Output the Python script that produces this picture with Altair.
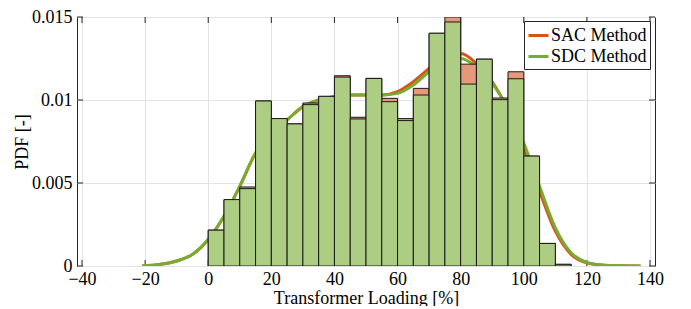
import altair as alt
import pandas as pd

# ---- data ----
bin_starts = list(range(0, 115, 5))
bin_width = 5
sac_pdf = [0.00216, 0.0040, 0.00476, 0.00994, 0.00888, 0.00856, 0.00982, 0.01022,
           0.01146, 0.00896, 0.0113, 0.0101, 0.00888, 0.0107, 0.01402, 0.0150,
           0.01216, 0.01246, 0.01012, 0.0117, 0.00662, 0.00136, 0.0001]
sdc_pdf = [0.00216, 0.0040, 0.00466, 0.00994, 0.00888, 0.00856, 0.00972, 0.01022,
           0.01138, 0.00886, 0.0113, 0.0099, 0.00876, 0.0103, 0.01402, 0.0147,
           0.01096, 0.01246, 0.01002, 0.01128, 0.00662, 0.00136, 0.0001]

curve_x = [-21, -15, -10, -5, 0, 5, 10, 15, 20, 25, 30, 35, 40, 45, 50, 55, 60,
           65, 70, 75, 80, 85, 90, 95, 100, 105, 110, 115, 120, 125, 130, 137]
sac_curve = [0, 0.0001, 0.0003, 0.0007, 0.0016, 0.0030, 0.0048, 0.0068, 0.0080,
             0.0088, 0.0096, 0.0100, 0.0102, 0.0103, 0.0103, 0.0103, 0.0105,
             0.0111, 0.0119, 0.0126, 0.0128, 0.0122, 0.0111, 0.0094, 0.0071,
             0.0045, 0.0021, 0.0007, 0.00019, 0.00005, 0.00001, 0]
sdc_curve = [0, 0.0001, 0.0003, 0.0007, 0.0016, 0.0030, 0.0048, 0.0068, 0.0080,
             0.0088, 0.0096, 0.0100, 0.0102, 0.0103, 0.0103, 0.0103, 0.0104,
             0.0109, 0.0117, 0.0123, 0.0125, 0.0120, 0.0110, 0.0095, 0.0074,
             0.0048, 0.0023, 0.0008, 0.00022, 0.00006, 0.00001, 0]

series_names = ["SAC Method", "SDC Method"]
line_colors = ["#D95319", "#77AC30"]
bar_colors = ["#E8987A", "#ADCD83"]

x_ticks = [-40, -20, 0, 20, 40, 60, 80, 100, 120, 140]
y_ticks = [0, 0.005, 0.01, 0.015]

FONT = "Liberation Serif"
W, H = 578, 249

# ---- tables ----
bars = pd.DataFrame({
    "x0": bin_starts,
    "x1": [b + bin_width for b in bin_starts],
    "sac": sac_pdf,
    "sdc": sdc_pdf,
})
curves = pd.concat([
    pd.DataFrame({"x": curve_x, "pdf": sac_curve, "method": series_names[0]}),
    pd.DataFrame({"x": curve_x, "pdf": sdc_curve, "method": series_names[1]}),
])
xt = pd.DataFrame({"v": x_ticks})
yt = pd.DataFrame({"v": y_ticks})

xscale = alt.Scale(domain=[-40, 140], nice=False, zero=False)
yscale = alt.Scale(domain=[0, 0.015], nice=False)

x_axis = alt.Axis(values=x_ticks, title="Transformer Loading [%]", grid=True,
                  gridColor="#e3e3e3", ticks=False, domain=False, labelPadding=4,
                  labelFont=FONT, labelFontSize=18, labelColor="black",
                  titleFont=FONT, titleFontSize=18, titleFontWeight="normal",
                  titleColor="black", titleBaseline="middle", titleY=32)
y_axis = alt.Axis(values=y_ticks, title="PDF [-]", grid=True, gridColor="#e3e3e3",
                  ticks=False, domain=False, labelPadding=5,
                  labelExpr="'' + datum.value",
                  labelFont=FONT, labelFontSize=18, labelColor="black",
                  titleFont=FONT, titleFontSize=18, titleFontWeight="normal",
                  titleColor="black", titleAngle=-90, titleBaseline="middle",
                  titleX=-55, titleY=H / 2, titleAlign="center")

base_axes = alt.Chart(bars).mark_bar(opacity=0).encode(
    x=alt.X("x0:Q", scale=xscale, axis=x_axis),
    y=alt.Y("sac:Q", scale=yscale, axis=y_axis),
)

tick_col = "#262626"
top_ticks = alt.Chart(xt).mark_rule(color=tick_col, strokeWidth=1).encode(
    x=alt.X("v:Q", scale=xscale), y=alt.value(0), y2=alt.value(6))
bot_ticks = alt.Chart(xt).mark_rule(color=tick_col, strokeWidth=1).encode(
    x=alt.X("v:Q", scale=xscale), y=alt.value(H), y2=alt.value(H - 6))
left_ticks = alt.Chart(yt).mark_rule(color=tick_col, strokeWidth=1).encode(
    y=alt.Y("v:Q", scale=yscale), x=alt.value(0), x2=alt.value(6))
right_ticks = alt.Chart(yt).mark_rule(color=tick_col, strokeWidth=1).encode(
    y=alt.Y("v:Q", scale=yscale), x=alt.value(W), x2=alt.value(W - 6))

lines = alt.Chart(curves).mark_line(strokeWidth=3, interpolate="monotone", clip=True).encode(
    x=alt.X("x:Q", scale=xscale),
    y=alt.Y("pdf:Q", scale=yscale),
    color=alt.Color("method:N",
                    scale=alt.Scale(domain=series_names, range=line_colors),
                    legend=alt.Legend(title=None, orient="none", legendX=447, legendY=4,
                                      symbolType="stroke", symbolSize=400,
                                      symbolStrokeWidth=3, labelFont=FONT,
                                      labelFontSize=18, labelColor="black",
                                      strokeColor="#262626", fillColor="white",
                                      padding=3, rowPadding=-4, labelOffset=1,
                                      cornerRadius=0)),
    order=alt.Order("x:Q"),
)

sac_bars = alt.Chart(bars).mark_bar(fill=bar_colors[0], stroke="#1a1a1a",
                                    strokeWidth=1, clip=True).encode(
    x=alt.X("x0:Q", scale=xscale), x2="x1:Q",
    y=alt.Y("sac:Q", scale=yscale), y2=alt.datum(0))
sdc_bars = alt.Chart(bars).mark_bar(fill=bar_colors[1], stroke="#1a1a1a",
                                    strokeWidth=1, clip=True).encode(
    x=alt.X("x0:Q", scale=xscale), x2="x1:Q",
    y=alt.Y("sdc:Q", scale=yscale), y2=alt.datum(0))

chart = alt.layer(
    base_axes, top_ticks, bot_ticks, left_ticks, right_ticks, lines, sac_bars, sdc_bars
).properties(
    width=W, height=H,
    autosize=alt.AutoSizeParams(type="none"),
    padding={"left": 69, "top": 9, "right": 20, "bottom": 40},
).configure_view(stroke="#262626", strokeWidth=1)

chart.save("out.html", embed_options={"renderer": "svg", "actions": False})
